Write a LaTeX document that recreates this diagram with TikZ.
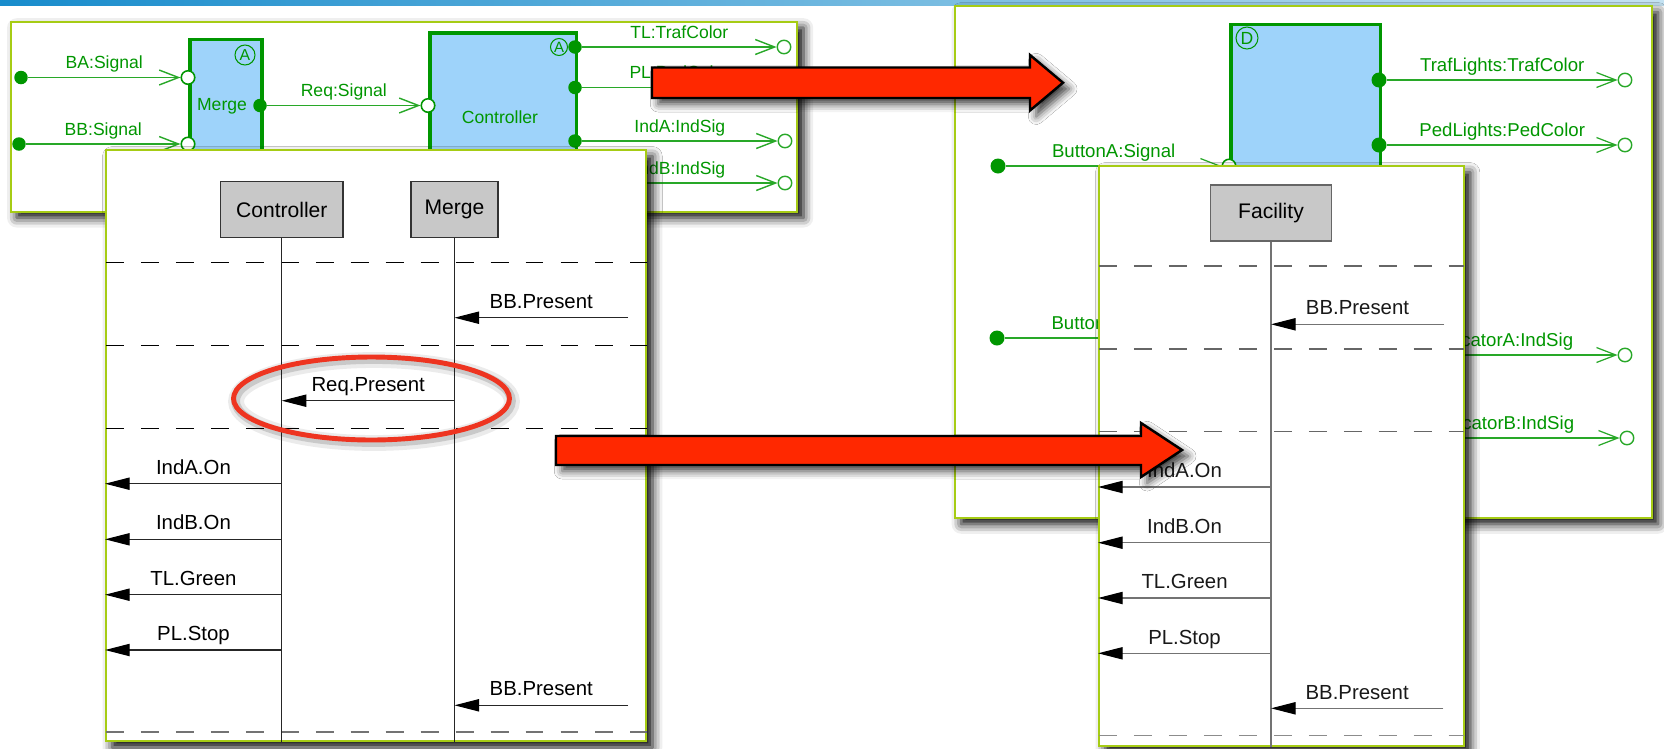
\documentclass[tikz,border=0pt]{standalone}
\usepackage{fontspec}
\setmainfont{Liberation Sans}
\usetikzlibrary{arrows.meta,shadows.blur}

\definecolor{topblue}{RGB}{24,140,204}
\definecolor{toplight}{RGB}{196,226,242}
\definecolor{framegreen}{RGB}{166,204,20}
\definecolor{blockgreen}{RGB}{0,150,0}
\definecolor{linkgreen}{RGB}{40,168,40}
\definecolor{blockblue}{RGB}{158,211,250}
\definecolor{lifegray}{RGB}{200,200,200}
\definecolor{arrowred}{RGB}{255,40,0}
\definecolor{ringred}{RGB}{238,52,32}

\newcommand{\portfont}{\fontsize{10}{12}\selectfont}
\newcommand{\facfont}{\fontsize{10.6}{12}\selectfont}
\newcommand{\seqfont}{\fontsize{11.6}{14}\selectfont}
\newcommand{\headfont}{\fontsize{12}{14}\selectfont}

\tikzset{
  panel/.style={draw=framegreen, line width=1.1pt, fill=white, inner sep=0pt,
    blur shadow={shadow xshift=3.5pt, shadow yshift=-3.5pt, shadow blur radius=5.5pt, shadow opacity=100}},
  block/.style={draw=blockgreen, line width=2pt, fill=blockblue, inner sep=0pt, anchor=north west},
  badge/.style={circle, draw=blockgreen, line width=0.6pt, inner sep=0pt, text=blockgreen},
  inport/.style={circle, draw=blockgreen, line width=0.9pt, fill=white, inner sep=0pt, minimum size=0.27cm},
  outport/.style={circle, fill=blockgreen, inner sep=0pt, minimum size=0.27cm},
  envport/.style={circle, draw=linkgreen, line width=0.8pt, fill=white, inner sep=0pt, minimum size=0.27cm},
  flow/.style={draw=linkgreen, line width=0.8pt, -{Straight Barb[length=11pt, width=8.5pt]}},
  flowlbl/.style={above=4.5pt, inner sep=0pt, text depth=0pt, text=blockgreen, font=\portfont},
  lifebox/.style={draw=black!80, fill=lifegray, line width=0.7pt, minimum height=1.12cm, font=\headfont},
  lifeline/.style={draw=black!85, line width=0.6pt},
  msg/.style={draw=black!85, line width=0.6pt, -{Triangle[length=14pt, width=7pt, color=black]}},
  msglbl/.style={above=5pt, inner sep=0pt, text depth=0pt, font=\seqfont},
  divider/.style={dash pattern=on 10.2pt off 9.7pt, line width=0.7pt},
  bigarrow/.style={fill=arrowred, draw=black, line width=1.4pt,
    blur shadow={shadow xshift=3.5pt, shadow yshift=-3.5pt, shadow blur radius=4.5pt, shadow opacity=75}},
}

\begin{document}
\begin{tikzpicture}[x=0.02cm, y=-0.02cm]
  \useasboundingbox (0,0) rectangle (1664,748);
  \shade[left color=topblue, right color=toplight] (0,0) rectangle (1664,5);

  % composite structure with Merge and Controller
  \node[panel, minimum width=15.74cm, minimum height=3.8cm] (compA) at (404,116.7) {};
  \node[block, minimum width=1.44cm, minimum height=3.3cm] (mergeBlk) at (188,37.7) {};
  \node[block, minimum width=2.94cm, minimum height=3.4cm] (ctrlBlk) at (428,31) {};
  \node[badge, minimum size=0.4cm, font=\fontsize{9}{9}\selectfont] (mergeBadge) at (245,55) {A};
  \node[badge, minimum size=0.34cm, font=\fontsize{8.5}{8}\selectfont] (ctrlBadge) at (559,47) {A};
  \node[text=blockgreen, font=\portfont] (mergeName) at (222,106) {Merge};
  \node[text=blockgreen, font=\portfont] (ctrlName) at (500,117) {Controller};

  \node[outport] (baSrc) at (21,77.5) {};
  \node[outport] (bbSrc) at (19,144) {};
  \node[inport] (mergeInA) at (188,77.5) {};
  \node[inport] (mergeInB) at (188,144) {};
  \node[outport] (mergeOut) at (260,105.5) {};
  \node[inport] (ctrlIn) at (428,105.5) {};
  \node[outport] (ctrlTL) at (575,47) {};
  \node[outport] (ctrlPL) at (575,87.5) {};
  \node[outport] (ctrlIndA) at (575,141) {};
  \node[outport] (ctrlIndB) at (575,183) {};
  \node[envport] (envTL) at (784,47) {};
  \node[envport] (envPL) at (784,87.5) {};
  \node[envport] (envIndA) at (785,141) {};
  \node[envport] (envIndB) at (785,183) {};

  \draw[flow] (baSrc) -- node[flowlbl] {BA:Signal} (mergeInA);
  \draw[flow] (bbSrc) -- node[flowlbl] {BB:Signal} (mergeInB);
  \draw[flow] (mergeOut) -- node[flowlbl] {Req:Signal} (ctrlIn);
  \draw[flow] (ctrlTL) -- node[flowlbl] {TL:TrafColor} (envTL);
  \draw[flow] (ctrlPL) -- node[flowlbl] {PL:PedColor} (envPL);
  \draw[flow] (ctrlIndA) -- node[flowlbl] {IndA:IndSig} (envIndA);
  \draw[flow] (ctrlIndB) -- node[flowlbl] {IndB:IndSig} (envIndB);

  % sequence between Controller and Merge
  \node[panel, minimum width=10.81cm, minimum height=11.83cm] (seqA) at (376.25,445.75) {};
  \node[lifebox, minimum width=2.444cm] (ctrlLife) at (281.8,209.7) {Controller};
  \node[lifebox, minimum width=1.74cm] (mergeLife) at (454.5,209.7) {Merge};

  \draw[divider] (106,262.3) -- (646.5,262.3);
  \draw[divider] (106,345.7) -- (646.5,345.7);
  \draw[divider] (106,428.3) -- (646.5,428.3);
  \draw[divider, black!55] (106,732) -- (646.5,732);

  \draw[lifeline] (ctrlLife.south) -- (ctrlLife.south |- seqA.south);
  \draw[lifeline] (mergeLife.south) -- (mergeLife.south |- seqA.south);

  \coordinate (bbInA) at (628,317.7);
  \coordinate (reqOut) at (454.5,400.7);
  \coordinate (indAOut) at (281.8,483.7);
  \coordinate (indBOut) at (281.8,539.3);
  \coordinate (tlOut) at (281.8,594.7);
  \coordinate (plOut) at (281.8,650);
  \coordinate (bbInB) at (628,705.3);
  \draw[msg] (bbInA) -- node[msglbl] {BB.Present} (bbInA -| mergeLife);
  \draw[msg] (reqOut) -- node[msglbl] {Req.Present} (reqOut -| ctrlLife);
  \draw[msg] (indAOut) -- node[msglbl] {IndA.On} (indAOut -| seqA.west);
  \draw[msg] (indBOut) -- node[msglbl] {IndB.On} (indBOut -| seqA.west);
  \draw[msg] (tlOut) -- node[msglbl] {TL.Green} (tlOut -| seqA.west);
  \draw[msg] (plOut) -- node[msglbl] {PL.Stop} (plOut -| seqA.west);
  \draw[msg] (bbInB) -- node[msglbl] {BB.Present} (bbInB -| mergeLife);

  % highlight ring
  \draw[black, opacity=0.08, line width=9pt] (374,401.5) ellipse [x radius=2.76cm, y radius=0.83cm];
  \draw[black, opacity=0.14, line width=5pt] (373.5,401) ellipse [x radius=2.76cm, y radius=0.83cm];
  \draw[ringred, line width=2.8pt] (371.5,398.5) ellipse [x radius=2.76cm, y radius=0.83cm];

  % decomposed Facility
  \node[panel, minimum width=13.94cm, minimum height=10.24cm] (compB) at (1303.5,262) {};
  \node[block, minimum width=3cm, minimum height=8.9cm] (facBlk) at (1229,22.5) {};
  \node[badge, minimum size=0.44cm, font=\fontsize{10}{10}\selectfont] (facBadge) at (1247,38) {D};

  \node[outport, minimum size=0.3cm] (btnASrc) at (998,166) {};
  \node[outport, minimum size=0.3cm] (btnBSrc) at (997,338) {};
  \node[inport] (facInA) at (1229,166) {};
  \node[inport] (facInB) at (1229,338) {};
  \node[outport, minimum size=0.3cm] (facTraf) at (1379,80) {};
  \node[outport, minimum size=0.3cm] (facPed) at (1379,145) {};
  \node[outport, minimum size=0.3cm] (facIndA) at (1379,355) {};
  \node[outport, minimum size=0.3cm] (facIndB) at (1379,438) {};
  \node[envport] (envTraf) at (1625,80) {};
  \node[envport] (envPed) at (1625,145) {};
  \node[envport] (envIndAB) at (1625,355) {};
  \node[envport] (envIndBB) at (1627,438) {};

  \draw[flow, line width=0.7pt] (btnASrc) -- node[flowlbl, font=\facfont] {ButtonA:Signal} (facInA);
  \draw[flow, line width=0.7pt] (btnBSrc) -- node[flowlbl, font=\facfont] {ButtonB:Signal} (facInB);
  \draw[flow, line width=0.7pt] (facTraf) -- node[flowlbl, font=\facfont] {TrafLights:TrafColor} (envTraf);
  \draw[flow, line width=0.7pt] (facPed) -- node[flowlbl, font=\facfont] {PedLights:PedColor} (envPed);
  \draw[flow, line width=0.7pt] (facIndA) -- node[flowlbl, font=\facfont] {IndicatorA:IndSig} (envIndAB);
  \draw[flow, line width=0.7pt] (facIndB) -- node[flowlbl, font=\facfont] {IndicatorB:IndSig} (envIndBB);

  % sequence of the Facility
  \node[panel, minimum width=7.3cm, minimum height=11.6cm] (seqB) at (1281.5,456) {};
  \node[lifebox, minimum width=2.42cm, draw=black!60] (facLife) at (1271,213) {Facility};

  \draw[divider, black!60] (1099,266) -- (1464,266);
  \draw[divider, black!60] (1099,349) -- (1464,349);
  \draw[divider, black!60] (1099,431.7) -- (1464,431.7);
  \draw[divider, black!45] (1099,735.7) -- (1464,735.7);

  \draw[lifeline, black!55] (facLife.south) -- (facLife.south |- seqB.south);

  \coordinate (facBbA) at (1444,324.3);
  \coordinate (facIndAOut) at (1271,487);
  \coordinate (facIndBOut) at (1271,542.7);
  \coordinate (facTlOut) at (1271,598);
  \coordinate (facPlOut) at (1271,653.3);
  \coordinate (facBbB) at (1443.3,708.3);
  \draw[msg, black!55] (facBbA) -- node[msglbl, text=black!90] {BB.Present} (facBbA -| facLife);
  \draw[msg, black!55] (facIndAOut) -- node[msglbl, text=black!90] {IndA.On} (facIndAOut -| seqB.west);
  \draw[msg, black!55] (facIndBOut) -- node[msglbl, text=black!90] {IndB.On} (facIndBOut -| seqB.west);
  \draw[msg, black!55] (facTlOut) -- node[msglbl, text=black!90] {TL.Green} (facTlOut -| seqB.west);
  \draw[msg, black!55] (facPlOut) -- node[msglbl, text=black!90] {PL.Stop} (facPlOut -| seqB.west);
  \draw[msg, black!55] (facBbB) -- node[msglbl, text=black!90] {BB.Present} (facBbB -| facLife);

  % big red arrows
  \draw[bigarrow] (652,67.5) -- (1030,67.5) -- (1030,55) -- (1063,82.7) -- (1030,110.5) -- (1030,98) -- (652,98) -- cycle;
  \draw[bigarrow] (556,436) -- (1141,436) -- (1141,423) -- (1182,450) -- (1141,477) -- (1141,465) -- (556,465) -- cycle;
\end{tikzpicture}
\end{document}
